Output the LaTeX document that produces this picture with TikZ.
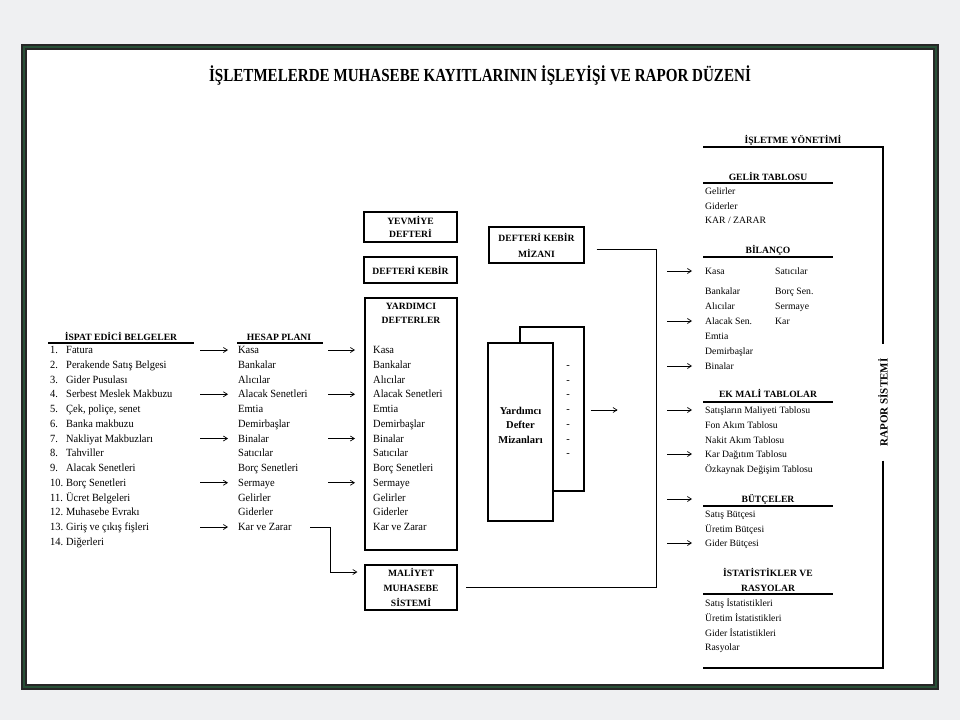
\documentclass[tikz,border=0pt]{standalone}
\usepackage{fontspec}
\setmainfont{Liberation Serif}
\newfontfamily\dar{Liberation Serif}[FakeStretch=0.82]
\newfontfamily\yari{Liberation Serif}[FakeStretch=0.95]
\usetikzlibrary{arrows.meta}

\definecolor{zemin}{RGB}{239,240,242}
\definecolor{cerceve}{RGB}{40,80,55}

\tikzset{
  kalem/.style={anchor=west, inner sep=0pt, text height=7pt, text depth=0pt, font=\yari\fontsize{11}{12}\selectfont},
  rkalem/.style={kalem, font=\fontsize{9.7}{11}\selectfont},
  baslik/.style={inner sep=0pt, text height=6.5pt, text depth=0pt, font=\bfseries\fontsize{9.6}{11}\selectfont},
  kutu/.style={draw, line width=1.2pt, inner sep=0pt, align=center, font=\bfseries\fontsize{9.6}{13}\selectfont},
  cizgi/.style={line width=1.2pt},
  ok/.style={-{Straight Barb[length=4pt,width=5pt]}, line width=0.7pt},
}

\begin{document}
\begin{tikzpicture}[x=1pt,y=-1pt]
  %%%%% ZEMIN %%%%%
  \path[use as bounding box, fill=zemin] (0,0) rectangle (960,720);
  \draw[line width=6pt, black!85, fill=white] (24,47) rectangle (936,687);
  \draw[line width=1.6pt, cerceve] (24,47) rectangle (936,687);

  \node[inner sep=0pt, font=\dar\bfseries\fontsize{18.4}{20}\selectfont] (baslik) at (480,76)
    {İŞLETMELERDE MUHASEBE KAYITLARININ İŞLEYİŞİ VE RAPOR DÜZENİ};

  %%%%% ISPAT EDICI BELGELER %%%%%
  \node[baslik] (ispat) at (121,337) {İSPAT EDİCİ BELGELER};
  \draw[cizgi] (48,343) -- (194,343);
  \node[kalem] (b1) at (50,350) {\makebox[16pt][l]{1.}Fatura};
  \node[kalem] (b2) at (50,364.75) {\makebox[16pt][l]{2.}Perakende Satış Belgesi};
  \node[kalem] (b3) at (50,379.5) {\makebox[16pt][l]{3.}Gider Pusulası};
  \node[kalem] (b4) at (50,394.25) {\makebox[16pt][l]{4.}Serbest Meslek Makbuzu};
  \node[kalem] (b5) at (50,409) {\makebox[16pt][l]{5.}Çek, poliçe, senet};
  \node[kalem] (b6) at (50,423.75) {\makebox[16pt][l]{6.}Banka makbuzu};
  \node[kalem] (b7) at (50,438.5) {\makebox[16pt][l]{7.}Nakliyat Makbuzları};
  \node[kalem] (b8) at (50,453.25) {\makebox[16pt][l]{8.}Tahviller};
  \node[kalem] (b9) at (50,468) {\makebox[16pt][l]{9.}Alacak Senetleri};
  \node[kalem] (b10) at (50,482.75) {\makebox[16pt][l]{10.}Borç Senetleri};
  \node[kalem] (b11) at (50,497.5) {\makebox[16pt][l]{11.}Ücret Belgeleri};
  \node[kalem] (b12) at (50,512.25) {\makebox[16pt][l]{12.}Muhasebe Evrakı};
  \node[kalem] (b13) at (50,527) {\makebox[16pt][l]{13.}Giriş ve çıkış fişleri};
  \node[kalem] (b14) at (50,541.75) {\makebox[16pt][l]{14.}Diğerleri};

  %%%%% HESAP PLANI %%%%%
  \node[baslik] (hesap) at (279,337) {HESAP PLANI};
  \draw[cizgi] (237,343) -- (323,343);
  \node[kalem] (h1) at (238,350) {Kasa};
  \node[kalem] (h2) at (238,364.75) {Bankalar};
  \node[kalem] (h3) at (238,379.5) {Alıcılar};
  \node[kalem] (h4) at (238,394.25) {Alacak Senetleri};
  \node[kalem] (h5) at (238,409) {Emtia};
  \node[kalem] (h6) at (238,423.75) {Demirbaşlar};
  \node[kalem] (h7) at (238,438.5) {Binalar};
  \node[kalem] (h8) at (238,453.25) {Satıcılar};
  \node[kalem] (h9) at (238,468) {Borç Senetleri};
  \node[kalem] (h10) at (238,482.75) {Sermaye};
  \node[kalem] (h11) at (238,497.5) {Gelirler};
  \node[kalem] (h12) at (238,512.25) {Giderler};
  \node[kalem] (h13) at (238,527) {Kar ve Zarar};

  \draw[ok] ([xshift=-38pt]h1.west) -- ([xshift=-10pt]h1.west);
  \draw[ok] ([xshift=-38pt]h4.west) -- ([xshift=-10pt]h4.west);
  \draw[ok] ([xshift=-38pt]h7.west) -- ([xshift=-10pt]h7.west);
  \draw[ok] ([xshift=-38pt]h10.west) -- ([xshift=-10pt]h10.west);
  \draw[ok] ([xshift=-38pt]h13.west) -- ([xshift=-10pt]h13.west);

  %%%%% DEFTERLER %%%%%
  \node[kutu, minimum width=93pt, minimum height=30pt] (yev) at (410.5,227) {YEVMİYE\\DEFTERİ};
  \node[kutu, minimum width=93pt, minimum height=26pt] (kebir) at (410.5,270) {DEFTERİ KEBİR};
  \node[kutu, minimum width=92pt, minimum height=252pt] (yrd) at (411,424) {};
  \node[baslik] (yrd1) at (411,306) {YARDIMCI};
  \node[baslik] (yrd2) at (411,320) {DEFTERLER};
  \node[kalem] (y1) at (373,350) {Kasa};
  \node[kalem] (y2) at (373,364.75) {Bankalar};
  \node[kalem] (y3) at (373,379.5) {Alıcılar};
  \node[kalem] (y4) at (373,394.25) {Alacak Senetleri};
  \node[kalem] (y5) at (373,409) {Emtia};
  \node[kalem] (y6) at (373,423.75) {Demirbaşlar};
  \node[kalem] (y7) at (373,438.5) {Binalar};
  \node[kalem] (y8) at (373,453.25) {Satıcılar};
  \node[kalem] (y9) at (373,468) {Borç Senetleri};
  \node[kalem] (y10) at (373,482.75) {Sermaye};
  \node[kalem] (y11) at (373,497.5) {Gelirler};
  \node[kalem] (y12) at (373,512.25) {Giderler};
  \node[kalem] (y13) at (373,527) {Kar ve Zarar};

  \draw[ok] ([xshift=-45pt]y1.west) -- ([xshift=-18pt]y1.west);
  \draw[ok] ([xshift=-45pt]y4.west) -- ([xshift=-18pt]y4.west);
  \draw[ok] ([xshift=-45pt]y7.west) -- ([xshift=-18pt]y7.west);
  \draw[ok] ([xshift=-45pt]y10.west) -- ([xshift=-18pt]y10.west);

  \node[kutu, minimum width=92pt, minimum height=45pt] (mal) at (411,587.5) {MALİYET\\[2pt]MUHASEBE\\[2pt]SİSTEMİ};
  \draw[ok] ([xshift=72pt]h13.west) -- ++(20,0) |- ([xshift=-7pt,yshift=15.5pt]mal.west);

  %%%%% MIZANLAR %%%%%
  \node[kutu, minimum width=95pt, minimum height=36pt] (miz) at (536.5,245) {DEFTERİ KEBİR\\[3pt]MİZANI};
  \node[kutu, minimum width=64pt, minimum height=164pt] (arka) at (552,409) {};
  \node[kutu, fill=white, minimum width=65pt, minimum height=178pt] (on) at (520.5,432) {};
  \node[kutu, draw=none, font=\bfseries\fontsize{10.5}{14.5}\selectfont] (ontxt) at (520.5,425) {Yardımcı\\Defter\\Mizanları};
  \node[kalem, anchor=center] (t1) at (568,364.75) {-};
  \node[kalem, anchor=center] (t2) at (568,379.5) {-};
  \node[kalem, anchor=center] (t3) at (568,394.25) {-};
  \node[kalem, anchor=center] (t4) at (568,409) {-};
  \node[kalem, anchor=center] (t5) at (568,423.75) {-};
  \node[kalem, anchor=center] (t6) at (568,438.5) {-};
  \node[kalem, anchor=center] (t7) at (568,453.25) {-};
  \draw[ok] ([xshift=6pt,yshift=-1pt]arka.east) -- ++(27,0);

  \draw[line width=0.9pt] ([xshift=12pt,yshift=-4pt]miz.east) -| ([xshift=199pt]mal.east) -- ([xshift=8pt]mal.east);

  %%%%% RAPOR SISTEMI %%%%%
  \node[baslik] (yon) at (793,140) {İŞLETME YÖNETİMİ};
  \node[inner sep=0pt, rotate=90, font=\bfseries\fontsize{11}{13}\selectfont] (rs) at (883,402.5) {RAPOR SİSTEMİ};
  \draw[cizgi] (703,147) -| ([yshift=14pt]rs.east);
  \draw[cizgi] ([yshift=-14pt]rs.west) |- (703,668);

  \node[baslik] (gt) at (768,177) {GELİR TABLOSU};
  \draw[cizgi] (703,183) -- (833,183);
  \node[rkalem] (g1) at (705,191) {Gelirler};
  \node[rkalem] (g2) at (705,205.5) {Giderler};
  \node[rkalem] (g3) at (705,220) {KAR / ZARAR};

  \node[baslik] (bil) at (768,250) {BİLANÇO};
  \draw[cizgi] (703,257) -- (833,257);
  \node[rkalem] (a1) at (705,271) {Kasa};
  \node[rkalem] (p1) at (775,271) {Satıcılar};
  \node[rkalem] (a2) at (705,291) {Bankalar};
  \node[rkalem] (p2) at (775,291) {Borç Sen.};
  \node[rkalem] (a3) at (705,306) {Alıcılar};
  \node[rkalem] (p3) at (775,306) {Sermaye};
  \node[rkalem] (a4) at (705,321) {Alacak Sen.};
  \node[rkalem] (p4) at (775,321) {Kar};
  \node[rkalem] (a5) at (705,336) {Emtia};
  \node[rkalem] (a6) at (705,351) {Demirbaşlar};
  \node[rkalem] (a7) at (705,366) {Binalar};

  \node[baslik] (ek) at (768,394) {EK MALİ TABLOLAR};
  \draw[cizgi] (703,402) -- (833,402);
  \node[rkalem] (e1) at (705,410) {Satışların Maliyeti Tablosu};
  \node[rkalem] (e2) at (705,425) {Fon Akım Tablosu};
  \node[rkalem] (e3) at (705,439.5) {Nakit Akım Tablosu};
  \node[rkalem] (e4) at (705,454) {Kar Dağıtım Tablosu};
  \node[rkalem] (e5) at (705,469) {Özkaynak Değişim Tablosu};

  \node[baslik] (but) at (768,499) {BÜTÇELER};
  \draw[cizgi] (703,506) -- (833,506);
  \node[rkalem] (c1) at (705,514) {Satış Bütçesi};
  \node[rkalem] (c2) at (705,528.5) {Üretim Bütçesi};
  \node[rkalem] (c3) at (705,543) {Gider Bütçesi};

  \node[baslik] (ist1) at (768,573) {İSTATİSTİKLER VE};
  \node[baslik] (ist2) at (768,588) {RASYOLAR};
  \draw[cizgi] (703,594) -- (833,594);
  \node[rkalem] (s1) at (705,603) {Satış İstatistikleri};
  \node[rkalem] (s2) at (705,618) {Üretim İstatistikleri};
  \node[rkalem] (s3) at (705,632.5) {Gider İstatistikleri};
  \node[rkalem] (s4) at (705,647) {Rasyolar};

  \coordinate (butok) at (705,499);
  \draw[ok] ([xshift=-38pt]a1.west) -- ([xshift=-13pt]a1.west);
  \draw[ok] ([xshift=-38pt]a4.west) -- ([xshift=-13pt]a4.west);
  \draw[ok] ([xshift=-38pt]a7.west) -- ([xshift=-13pt]a7.west);
  \draw[ok] ([xshift=-38pt]e1.west) -- ([xshift=-13pt]e1.west);
  \draw[ok] ([xshift=-38pt]e4.west) -- ([xshift=-13pt]e4.west);
  \draw[ok] ([xshift=-38pt]butok) -- ([xshift=-13pt]butok);
  \draw[ok] ([xshift=-38pt]c3.west) -- ([xshift=-13pt]c3.west);
\end{tikzpicture}
\end{document}
